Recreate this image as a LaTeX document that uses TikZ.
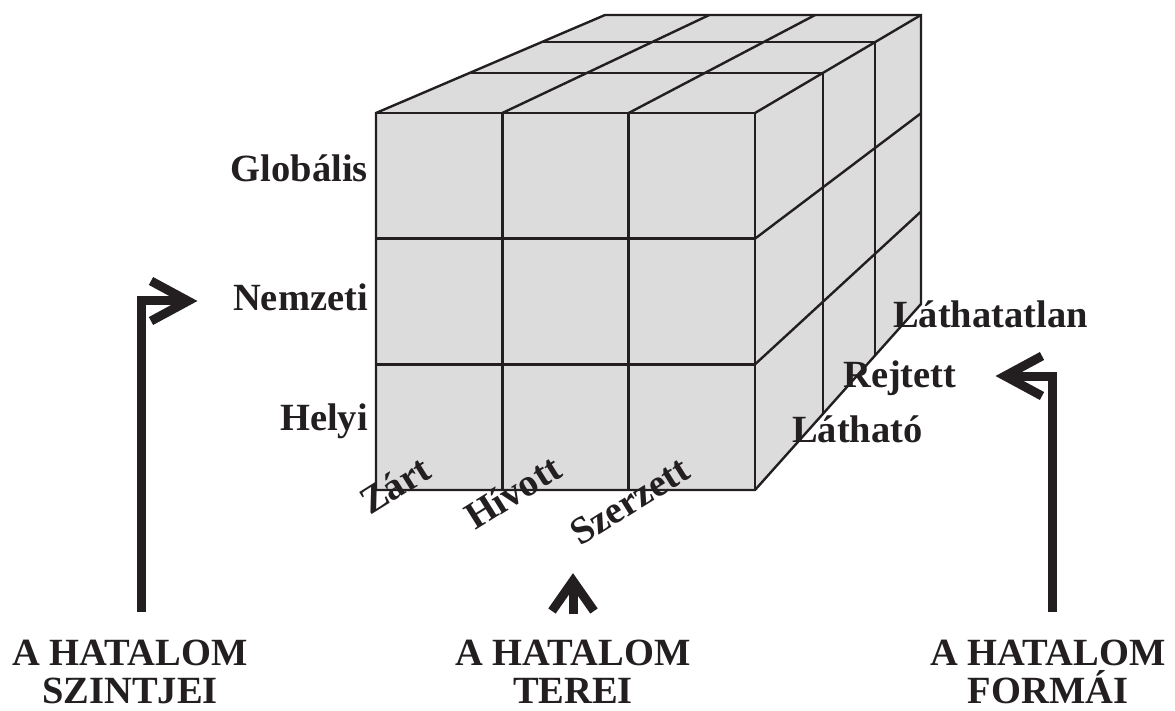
\documentclass[tikz,border=0pt]{standalone}
\usepackage{fontspec}
\setmainfont{Liberation Serif}
\usetikzlibrary{calc}
\definecolor{ink}{RGB}{35,31,32}
\definecolor{face}{RGB}{220,220,220}
\begin{document}
\begin{tikzpicture}[x=1pt,y=-1pt,
  grid/.style={draw=ink,line width=2.4pt,line join=miter},
  lbl/.style={font=\fontsize{38.5}{38}\selectfont\bfseries,text=ink,inner sep=0pt},
  shaft/.style={draw=ink,line width=9pt,line join=miter},
  barb/.style={draw=ink,line width=9pt,line join=miter,line cap=butt}]
\useasboundingbox (0,0) rectangle (1175,711);
% cube corners
\coordinate (A) at (376,113);
\coordinate (B) at (755,113);
\coordinate (C) at (755,490);
\coordinate (D) at (376,490);
\coordinate (E) at (605,15);
\coordinate (Fb) at (921,15);
\coordinate (G) at (921,304);
% faces
\fill[face] (A)--(B)--(C)--(D)--cycle;
\fill[face] (A)--(E)--(Fb)--(B)--cycle;
\fill[face] (B)--(Fb)--(G)--(C)--cycle;
% front grid
\draw[grid] ($(A)!1/3!(B)$) -- ($(D)!1/3!(C)$);
\draw[grid] ($(A)!2/3!(B)$) -- ($(D)!2/3!(C)$);
\draw[grid] ($(A)!1/3!(D)$) -- ($(B)!1/3!(C)$);
\draw[grid] ($(A)!2/3!(D)$) -- ($(B)!2/3!(C)$);
% top grid
\draw[grid] ($(A)!0.408!(E)$) -- ($(B)!0.408!(Fb)$);
\draw[grid] ($(A)!0.724!(E)$) -- ($(B)!0.724!(Fb)$);
\draw[grid] ($(A)!1/3!(B)$) -- ($(E)!0.33!(Fb)$);
\draw[grid] ($(A)!2/3!(B)$) -- ($(E)!0.665!(Fb)$);
% right grid
\draw[grid] ($(B)!0.408!(Fb)$) -- ($(C)!0.408!(G)$);
\draw[grid] ($(B)!0.724!(Fb)$) -- ($(C)!0.724!(G)$);
\draw[grid] ($(B)!1/3!(C)$) -- ($(Fb)!0.34!(G)$);
\draw[grid] ($(B)!2/3!(C)$) -- ($(Fb)!0.68!(G)$);
% outline
\draw[grid] (A)--(E)--(Fb)--(G)--(C)--(D)--cycle;
\draw[grid] (A)--(B)--(C);
\draw[grid] (B)--(Fb);
% labels
\node[lbl,anchor=base east] (glob) at (368,182) {Globális};
\node[lbl,anchor=base east] (nemz) at (368,311) {Nemzeti};
\node[lbl,anchor=base east] (hely) at (368,430) {Helyi};
\node[lbl,anchor=base west] (lath) at (893,327) {Láthatatlan};
\node[lbl,anchor=base west] (rejt) at (843,387) {Rejtett};
\node[lbl,anchor=base west] (lato) at (792,442) {Látható};
\node[lbl,anchor=base west,rotate=32] (zart) at (370,516) {Zárt};
\node[lbl,anchor=base west,rotate=32] (hiv) at (475,531) {Hívott};
\node[lbl,anchor=base west,rotate=32] (szer) at (580,547) {Szerzett};
\node[lbl,align=center] (szint) at (130,672) {A HATALOM\\SZINTJEI};
\node[lbl,align=center] (terei) at (573,672) {A HATALOM\\TEREI};
\node[lbl,align=center] (formai) at (1048,672) {A HATALOM\\FORMÁI};
% arrows
\coordinate (l0) at (141,612);
\coordinate (l1) at (141,301);
\coordinate (l2) at (188,301);
\draw[shaft] (l0) -- (l1) -- (l2);
\draw[barb] (151,281) -- (l2) -- (151,321);
\coordinate (m0) at (573,614);
\coordinate (m1) at (573,581);
\draw[shaft] (m0) -- (m1);
\draw[barb] (552,611) -- (m1) -- (594,611);
\coordinate (r0) at (1052,612);
\coordinate (r1) at (1052,376);
\coordinate (r2) at (1005,376);
\draw[shaft] (r0) -- (r1) -- (r2);
\draw[barb] (1042,356) -- (r2) -- (1042,396);
\end{tikzpicture}
\end{document}
